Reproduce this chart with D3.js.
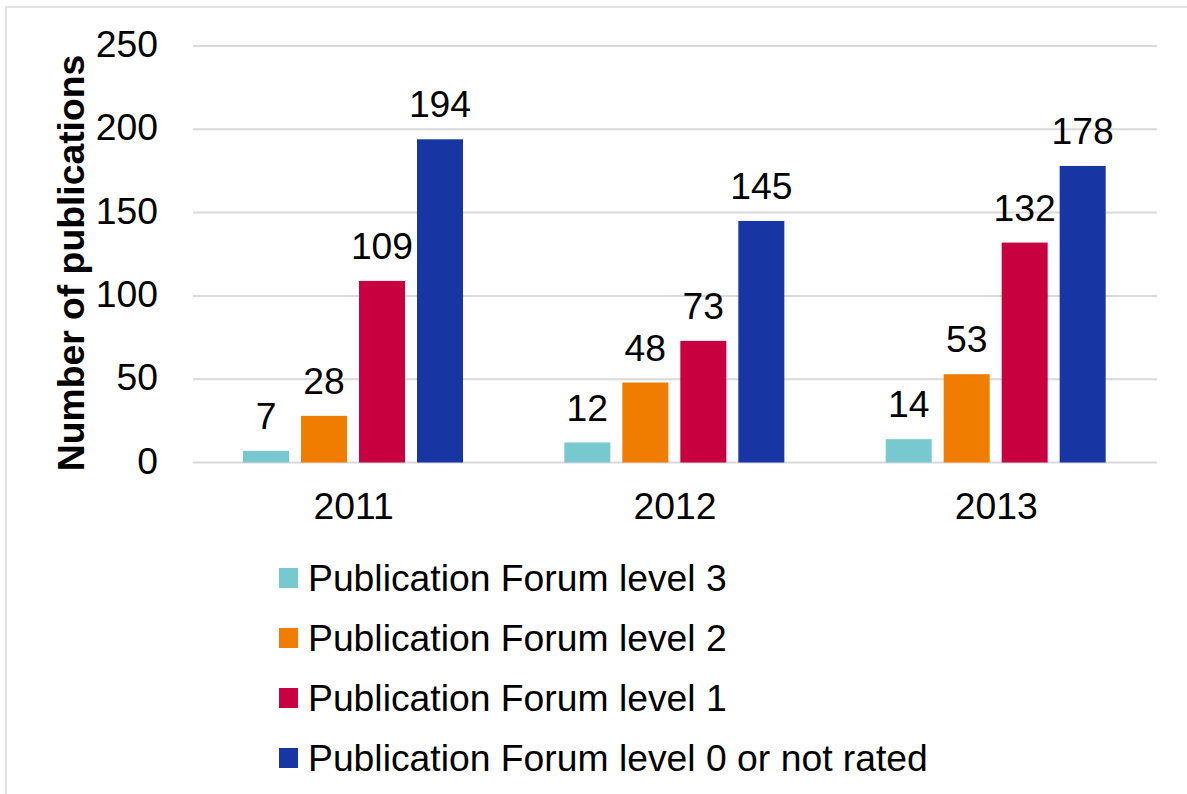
<!DOCTYPE html>
<html lang="en">
<head>
  <meta charset="UTF-8">
  <script src="https://cdn.jsdelivr.net/npm/d3@7/dist/d3.min.js"></script>
  <title>Publications</title>
  <style>
    body { margin: 0; background: white; }
    text { font-family: "Liberation Sans", Arial, sans-serif; fill: #000; font-size: 37.3px; }
    .grid line { stroke: #d9d9d9; stroke-width: 2; }
  </style>
</head>
<body>
  <script>
    // data
    const years = ["2011", "2012", "2013"];
    const series = [
      "Publication Forum level 3",
      "Publication Forum level 2",
      "Publication Forum level 1",
      "Publication Forum level 0 or not rated"
    ];
    const level3 = [7, 12, 14];
    const level2 = [28, 48, 53];
    const level1 = [109, 73, 132];
    const level0 = [194, 145, 178];
    const yTicks = [0, 50, 100, 150, 200, 250];
    const colors = ["#78c8d0", "#f07d00", "#c8003f", "#1736a3"];

    const values = [level3, level2, level1, level0];

    const W = 1187, H = 794;
    const svg = d3.select("body").append("svg")
      .attr("width", W)
      .attr("height", H);

    // outer frame (right and bottom edges fall outside the picture)
    svg.append("rect")
      .attr("x", 6).attr("y", 7)
      .attr("width", W + 10).attr("height", H + 10)
      .attr("fill", "none")
      .attr("stroke", "#d9d9d9")
      .attr("stroke-width", 1.5);

    const x0 = d3.scaleBand().domain(years).range([193, 1157]);
    const x1 = d3.scaleBand().domain(series).range([50, 270]).paddingInner(12 / 58);
    const y = d3.scaleLinear().domain([0, 250]).range([462.5, 46]);

    // gridlines
    svg.append("g").attr("class", "grid")
      .selectAll("line").data(yTicks).enter()
      .append("line")
      .attr("x1", 193).attr("x2", 1157)
      .attr("y1", d => y(d)).attr("y2", d => y(d));

    // y tick labels
    svg.append("g").selectAll("text").data(yTicks).enter()
      .append("text")
      .attr("x", 158)
      .attr("y", d => y(d) + 11)
      .attr("text-anchor", "end")
      .text(d => d);

    // y title
    svg.append("text")
      .attr("transform", "translate(84,263) rotate(-90)")
      .attr("text-anchor", "middle")
      .style("font-weight", "bold")
      .text("Number of publications");

    // bars
    const groups = svg.selectAll("g.year").data(years).enter()
      .append("g").attr("class", "year")
      .attr("transform", d => `translate(${x0(d)},0)`);

    groups.each(function (yr, yi) {
      const g = d3.select(this);
      const rows = series.map((s, si) => ({ s, si, v: values[si][yi] }));
      g.selectAll("rect").data(rows).enter()
        .append("rect")
        .attr("x", d => x1(d.s))
        .attr("y", d => y(d.v))
        .attr("width", x1.bandwidth())
        .attr("height", d => y(0) - y(d.v))
        .attr("fill", d => colors[d.si]);
      g.selectAll("text.lbl").data(rows).enter()
        .append("text").attr("class", "lbl")
        .attr("x", d => x1(d.s) + x1.bandwidth() / 2)
        .attr("y", d => y(d.v) - 22)
        .attr("text-anchor", "middle")
        .text(d => d.v);
    });

    // x labels
    svg.append("g").selectAll("text").data(years).enter()
      .append("text")
      .attr("x", d => x0(d) + x0.bandwidth() / 2)
      .attr("y", 519)
      .attr("text-anchor", "middle")
      .text(d => d);

    // legend
    const leg = svg.append("g").selectAll("g").data(series).enter()
      .append("g")
      .attr("transform", (d, i) => `translate(279,${568 + i * 60})`);
    leg.append("rect")
      .attr("width", 19).attr("height", 20)
      .attr("fill", (d, i) => colors[i]);
    leg.append("text")
      .attr("x", 29).attr("y", 23)
      .text(d => d);
  </script>
</body>
</html>
